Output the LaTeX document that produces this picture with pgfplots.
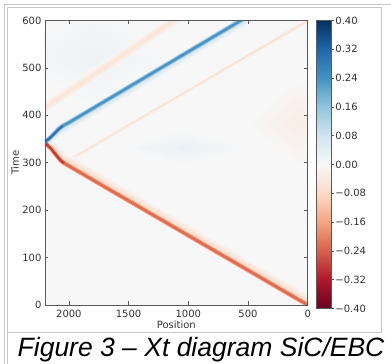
\documentclass[border=0pt]{standalone}
\usepackage{fontspec}
\setmainfont{DejaVu Sans}
\newfontfamily\capfont{Liberation Sans}
\usepackage{pgfplots}
\pgfplotsset{compat=1.18}
\definecolor{bgcol}{RGB}{247,247,247}
\definecolor{blueA}{RGB}{45,115,178}
\definecolor{blueB}{RGB}{72,148,197}
\definecolor{redA}{RGB}{200,60,52}
\definecolor{redB}{RGB}{226,106,78}
\definecolor{framecol}{RGB}{200,200,200}
\definecolor{txt}{RGB}{51,51,51}
\definecolor{spine}{RGB}{90,90,90}
\begin{document}
\begin{tikzpicture}
\useasboundingbox (0pt,0pt) rectangle (391pt,364pt);
% page frame
\draw[framecol, line width=0.8pt] (4.5pt,0pt) -- (4.5pt,359.5pt) -- (391pt,359.5pt);
\draw[framecol, line width=0.8pt] (7.5pt,0pt) -- (7.5pt,356.5pt) -- (381.5pt,356.5pt) -- (381.5pt,32pt) -- (7.5pt,32pt);
\begin{axis}[
  at={(45pt,59pt)}, anchor=south west,
  scale only axis, width=262.7pt, height=284.5pt,
  xmin=0, xmax=2200, ymin=0, ymax=600, x dir=reverse,
  xtick={0,500,1000,1500,2000}, ytick={0,100,200,300,400,500,600},
  scaled x ticks=false,
  /pgf/number format/1000 sep={},
  /pgf/number format/assume math mode=true,
  tick align=inside, major tick length=3.5pt,
  axis line style={spine, line width=0.8pt},
  tick style={spine, line width=0.6pt},
  tick label style={font=\fontsize{10}{12}\selectfont, text=txt},
  xticklabel style={yshift=-1.5pt},
  xlabel={Position}, ylabel={Time},
  label style={font=\fontsize{10}{12}\selectfont, text=txt},
  xlabel style={at={(axis description cs:0.5,-0.071)}, anchor=center},
  ylabel style={at={(axis description cs:-0.114,0.5)}, anchor=center},
  axis background/.style={fill=bgcol},
  axis on top,
  colormap={RdBu}{rgb255=(103,0,31) rgb255=(178,24,43) rgb255=(214,96,77) rgb255=(244,165,130) rgb255=(253,219,199) rgb255=(247,247,247) rgb255=(209,229,240) rgb255=(146,197,222) rgb255=(67,147,195) rgb255=(33,102,172) rgb255=(5,48,97)},
  point meta min=-0.4, point meta max=0.4,
  colorbar,
  colorbar style={
    scale only axis, width=15pt, height=288pt,
    at={([xshift=19pt,yshift=0.5pt]parent axis.north east)}, anchor=north west,
    ytick={-0.4,-0.32,-0.24,-0.16,-0.08,0,0.08,0.16,0.24,0.32,0.4},
    yticklabels={−0.40,−0.32,−0.24,−0.16,−0.08,0.00,0.08,0.16,0.24,0.32,0.40},
    ytick pos=right,
    yticklabel style={font=\fontsize{10}{12}\selectfont, text=txt, anchor=west, inner sep=0pt, xshift=1.5pt},
    tick align=outside, major tick length=2.5pt,
    axis line style={spine, line width=0.8pt},
    tick style={spine, line width=0.6pt},
  },
]
% diffuse washes
\addplot[patch, shader=interp, point meta=explicit] table[meta=c] {
x y c
1800 520 0.02
1800 660 0
2500 520 0
1800 520 0.02
2500 520 0
1800 410 0
1800 520 0.02
1800 410 0
1100 520 0
1800 520 0.02
1100 520 0
1800 660 0
1050 332 0.03
1050 372 0
1650 332 0
1050 332 0.03
1650 332 0
1050 296 0
1050 332 0.03
1050 296 0
450 332 0
1050 332 0.03
450 332 0
1050 372 0
80 385 -0.03
80 480 0
520 385 0
80 385 -0.03
520 385 0
80 290 0
80 385 -0.03
80 290 0
-360 385 0
80 385 -0.03
-360 385 0
80 480 0
};
% red band above the blue line
\addplot[patch, shader=interp, point meta=explicit] table[meta=c] {
x y c
2200 418 -0.055
1000 621.4 -0.055
1000 607.4 0
2200 418 -0.055
1000 607.4 0
2200 404 0
2200 418 -0.055
1000 621.4 -0.055
1000 635.4 0
2200 418 -0.055
1000 635.4 0
2200 432 0
};
% faint red line below the blue line
\addplot[patch, shader=interp, point meta=explicit] table[meta=c] {
x y c
2060 299 -0.06
-50 609 -0.07
-50 604 0
2060 299 -0.06
-50 604 0
2060 294 0
2060 299 -0.06
-50 609 -0.07
-50 614 0
2060 299 -0.06
-50 614 0
2060 304 0
};
% red line halo (above and below)
\addplot[patch, shader=interp, point meta=explicit] table[meta=c] {
x y c
2200 342 -0.11
2130 325 -0.11
2130 349 0
2200 342 -0.11
2130 349 0
2200 366 0
2130 325 -0.11
2060 302 -0.11
2060 326 0
2130 325 -0.11
2060 326 0
2130 349 0
2060 302 -0.11
-60 -8.8 -0.11
-60 15.2 0
2060 302 -0.11
-60 15.2 0
2060 326 0
2200 342 -0.09
2130 325 -0.09
2130 318 0
2200 342 -0.09
2130 318 0
2200 335 0
2130 325 -0.09
2060 302 -0.09
2060 295 0
2130 325 -0.09
2060 295 0
2130 318 0
2060 302 -0.09
-60 -8.8 -0.09
-60 -15.8 0
2060 302 -0.09
-60 -15.8 0
2060 295 0
};
% blue line halo (below and above)
\addplot[patch, shader=interp, point meta=explicit] table[meta=c] {
x y c
2200 344 0.1
2090 372 0.1
2090 355 0
2200 344 0.1
2090 355 0
2200 327 0
2090 372 0.1
2005 384 0.1
2005 367 0
2090 372 0.1
2005 367 0
2090 355 0
2005 384 0.1
400 624 0.1
400 607 0
2005 384 0.1
400 607 0
2005 367 0
2200 344 0.07
2090 372 0.07
2090 383 0
2200 344 0.07
2090 383 0
2200 355 0
2090 372 0.07
2005 384 0.07
2005 395 0
2090 372 0.07
2005 395 0
2090 383 0
2005 384 0.07
400 624 0.07
400 635 0
2005 384 0.07
400 635 0
2005 395 0
};
% line cores: soft outer layer, then inner core
\addplot[redB, opacity=0.45, line width=4.6pt, no marks, line join=round] coordinates {(2200,342) (2150,330) (2100,314) (2070,305) (2040,299.1) (-60,-8.8)};
\addplot[redB, line width=2.6pt, no marks, line join=round] coordinates {(2070,305) (2040,299.1) (-60,-8.8)};
\addplot[redA, line width=2.6pt, no marks, line join=round] coordinates {(2200,342) (2150,330) (2100,314) (2070,305) (2040,299.1)};
\addplot[blueB, opacity=0.45, line width=4.4pt, no marks, line join=round] coordinates {(2200,344) (2160,352) (2120,362) (2085,371) (2050,378) (2005,384) (400,624)};
\addplot[blueB, line width=2.4pt, no marks, line join=round] coordinates {(2050,378) (2005,384) (400,624)};
\addplot[blueA, line width=2.4pt, no marks, line join=round] coordinates {(2200,344) (2160,352) (2120,362) (2085,371) (2050,378)};
\end{axis}
\node[anchor=base west, inner sep=0pt, text=black] at (17.5pt,7pt) {\capfont\itshape\fontsize{26.5}{30}\selectfont Figure 3 – Xt diagram SiC/EBC};
\end{tikzpicture}
\end{document}
